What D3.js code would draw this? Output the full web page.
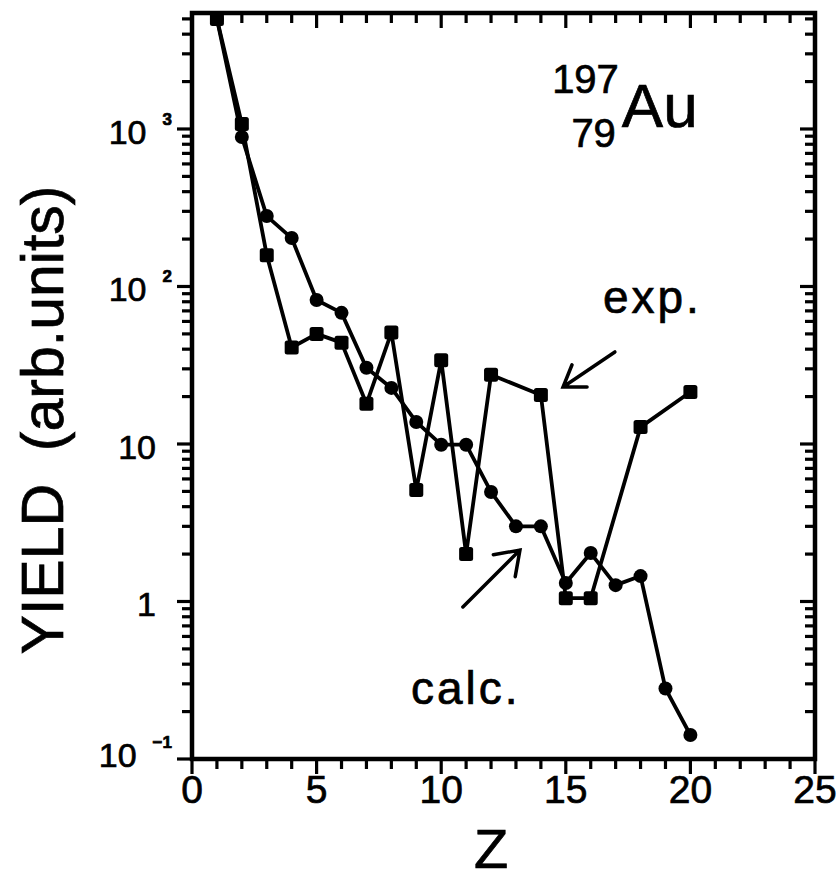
<!DOCTYPE html>
<html><head><meta charset="utf-8">
<script src="https://cdn.jsdelivr.net/npm/d3@7"></script>
<style>
body{margin:0;background:#fff}
svg{display:block}
text{font-family:"Liberation Sans",Arial,Helvetica,sans-serif;fill:#000;stroke:#000;stroke-width:0.7px}
</style>
</head><body>
<svg id="c" width="839" height="883"></svg>
<script>
// ---- data ----
const zExp     = [1, 2, 3, 4, 5, 6, 7, 8, 9, 10, 11, 12, 14, 15, 16, 18, 20];
const yieldExp = [5000, 1075, 158, 41, 50, 44, 18, 51, 5.1, 34, 2.0, 27.5, 20.5, 1.05, 1.05, 12.8, 21.4];
const zCalc     = [1, 2, 3, 4, 5, 6, 7, 8, 9, 10, 11, 12, 13, 14, 15, 16, 17, 18, 19, 20];
const yieldCalc = [5000, 890, 280, 203, 82, 68, 30.5, 22.7, 13.8, 9.9, 9.9, 4.96, 3.0, 3.0, 1.31, 2.03, 1.27, 1.45, 0.28, 0.142];
const xTickLabels = [0, 5, 10, 15, 20, 25];
const yTickValues = [0.1, 1, 10, 100, 1000];
const yTickBase   = ["10", "1", "10", "10", "10"];
const yTickExp    = ["\u2212\u0031", "", "", "2", "3"];
// annotations in data coordinates: [z, yield]
const expArrow  = {from: [16.97, 38.4], to: [14.89, 23.0]};
const calcArrow = {from: [10.87, 0.923], to: [13.16, 2.12]};

const svg = d3.select("#c");
const x = d3.scaleLinear([0, 25], [192, 815]);
const y = d3.scaleLog([0.1, 5450], [759, 13]);
const [X0, X1] = x.range();
const [Y0, Y1] = y.range();

// ---- ticks ----
const minorX = d3.range(0, 26);
const minorY = [];
for (let e = -1; e <= 3; e++) for (let m = 2; m <= 9; m++) {
  const v = m * Math.pow(10, e);
  if (v <= y.domain()[1]) minorY.push(v);
}
const tk = svg.append("g").attr("stroke", "#000").attr("stroke-width", 3.2);
// bottom (outward) and top (inward)
minorX.forEach(v => {
  const L = v % 5 === 0 ? 15 : 10;
  tk.append("line").attr("x1", x(v)).attr("x2", x(v)).attr("y1", Y0).attr("y2", Y0 + L);
  tk.append("line").attr("x1", x(v)).attr("x2", x(v)).attr("y1", Y1).attr("y2", Y1 + L);
});
// left (outward) and right (inward)
minorY.concat(yTickValues).forEach(v => {
  const L = yTickValues.includes(v) ? 15 : 10;
  tk.append("line").attr("x1", X0 - L).attr("x2", X0).attr("y1", y(v)).attr("y2", y(v));
  tk.append("line").attr("x1", X1 - L).attr("x2", X1).attr("y1", y(v)).attr("y2", y(v));
});

// frame
svg.append("rect").attr("x", X0).attr("y", Y1).attr("width", X1 - X0).attr("height", Y0 - Y1)
  .attr("fill", "none").attr("stroke", "#000").attr("stroke-width", 4.5);

// x tick labels
svg.append("g").selectAll("text").data(xTickLabels).join("text")
  .attr("x", d => x(d)).attr("y", Y0 + 44).attr("text-anchor", "middle")
  .attr("font-size", 39).text(d => d);

// y tick labels
yTickValues.forEach((v, i) => {
  const by = Math.min(y(v) + 15, 767);
  if (yTickExp[i] === "") {
    svg.append("text").attr("x", X0 - 36).attr("y", by).attr("text-anchor", "end")
      .attr("font-size", 34).text(yTickBase[i]);
  } else {
    const ex = svg.append("text").attr("x", X0 - 20).attr("y", by - 19).attr("text-anchor", "end")
      .attr("font-size", 17).attr("font-weight", "bold").text(yTickExp[i]);
    const w = ex.node().getComputedTextLength();
    svg.append("text").attr("x", X0 - 20 - w - 16).attr("y", by).attr("text-anchor", "end")
      .attr("font-size", 34).text(yTickBase[i]);
  }
});

// axis titles
svg.append("text").attr("transform", `translate(63,${(Y0 + Y1) / 2 + 34}) rotate(-90)`)
  .attr("text-anchor", "middle").attr("font-size", 59).style("white-space", "pre")
  .text("YIELD  (arb.units)");
svg.append("text").attr("x", 491).attr("y", 868).attr("text-anchor", "middle")
  .attr("font-size", 56).text("Z");

// ---- series ----
const line = d3.line().x(d => x(d[0])).y(d => y(d[1]));
const expPts = zExp.map((z, i) => [z, yieldExp[i]]);
const calcPts = zCalc.map((z, i) => [z, yieldCalc[i]]);
svg.append("path").datum(calcPts).attr("d", line).attr("fill", "none")
  .attr("stroke", "#000").attr("stroke-width", 3.8).attr("stroke-linejoin", "round");
svg.append("path").datum(expPts).attr("d", line).attr("fill", "none")
  .attr("stroke", "#000").attr("stroke-width", 3.8).attr("stroke-linejoin", "round");
svg.append("g").selectAll("circle").data(calcPts).join("circle")
  .attr("cx", d => x(d[0])).attr("cy", d => y(d[1])).attr("r", 7).attr("fill", "#000");
svg.append("g").selectAll("rect").data(expPts).join("rect")
  .attr("x", d => x(d[0]) - 7).attr("y", d => y(d[1]) - 7)
  .attr("width", 14).attr("height", 14).attr("rx", 2.5).attr("fill", "#000");

// ---- annotations ----
function arrow(a, len, spread) {
  const x1 = x(a.from[0]), y1 = y(a.from[1]), x2 = x(a.to[0]), y2 = y(a.to[1]);
  const ang = Math.atan2(y1 - y2, x1 - x2);
  const s = spread * Math.PI / 180;
  const b1 = [x2 + len * Math.cos(ang - s), y2 + len * Math.sin(ang - s)];
  const b2 = [x2 + len * Math.cos(ang + s), y2 + len * Math.sin(ang + s)];
  svg.append("path")
    .attr("d", `M${x1},${y1}L${x2},${y2}M${b1[0]},${b1[1]}L${x2},${y2}L${b2[0]},${b2[1]}`)
    .attr("fill", "none").attr("stroke", "#000").attr("stroke-width", 3.5).attr("stroke-linecap", "round");
}
arrow(expArrow, 24, 34);
arrow(calcArrow, 27, 35);

svg.append("text").attr("x", x(16.49)).attr("y", y(67.9)).attr("font-size", 46)
  .attr("letter-spacing", 3).text("exp.");
svg.append("text").attr("x", x(8.79)).attr("y", y(0.222)).attr("font-size", 46)
  .attr("letter-spacing", 3).text("calc.");

// nuclide label
svg.append("text").attr("x", x(17.13)).attr("y", y(1694)).attr("text-anchor", "end")
  .attr("font-size", 40).text("197");
svg.append("text").attr("x", x(17.01)).attr("y", y(769)).attr("text-anchor", "end")
  .attr("font-size", 40).text("79");
svg.append("text").attr("x", x(17.25)).attr("y", y(1030)).attr("font-size", 62).text("Au");
</script>
</body></html>
